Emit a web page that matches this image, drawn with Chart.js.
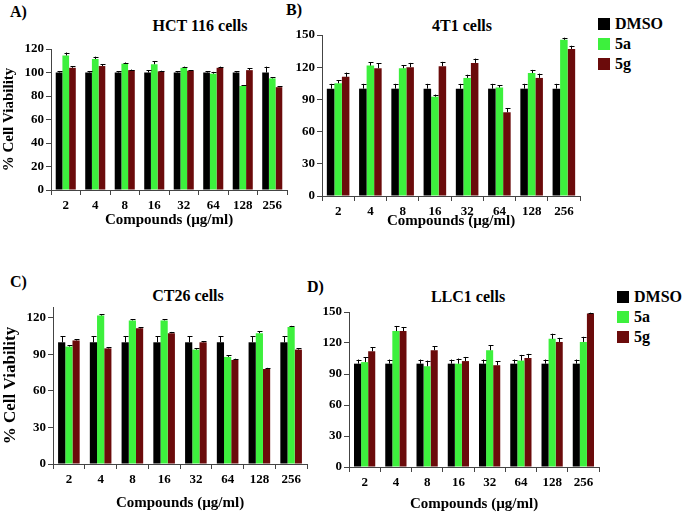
<!DOCTYPE html>
<html>
<head>
<meta charset="utf-8">
<script src="https://cdn.jsdelivr.net/npm/chart.js@4.4.1/dist/chart.umd.min.js"></script>
<style>
  html, body { margin:0; padding:0; background:#fff; }
  body { width:685px; height:513px; position:relative; overflow:hidden; font-family:"Liberation Serif", "Times New Roman", serif; font-weight:bold; color:#000; }
  canvas { position:absolute; }
  .t { position:absolute; transform:translate(-50%,-50%); white-space:nowrap; font-size:16px; }
  .l { position:absolute; white-space:nowrap; font-size:16px; transform:translateY(-50%); }
  .lg { position:absolute; font-size:16px; }
  .lg div { position:relative; height:20px; line-height:20px; }
  .lg span.sq { display:inline-block; width:12px; height:12px; margin-right:5px; vertical-align:-1px; }
</style>
</head>
<body>
<div class="l" style="left:10px;top:12px;">A)</div>
<div class="t" style="left:200px;top:26px;">HCT 116 cells</div>
<div class="l" style="left:286px;top:10px;">B)</div>
<div class="t" style="left:462px;top:26px;">4T1 cells</div>
<div class="l" style="left:10px;top:282px;">C)</div>
<div class="t" style="left:188px;top:296px;">CT26 cells</div>
<div class="l" style="left:307px;top:287px;">D)</div>
<div class="t" style="left:468px;top:297px;">LLC1 cells</div>

<canvas id="cA" width="292" height="194" style="left:0px;top:35px;"></canvas>
<canvas id="cB" width="293" height="210" style="left:292px;top:20px;"></canvas>
<canvas id="cC" width="312" height="222" style="left:0px;top:290px;"></canvas>
<canvas id="cD" width="292" height="216" style="left:312px;top:297px;"></canvas>

<div class="lg" id="legB" style="left:598px;top:14px;"></div>
<div class="lg" id="legD" style="left:617px;top:287px;"></div>

<script>
// ---- data ----
const categories = ['2','4','8','16','32','64','128','256'];
const seriesNames = ['DMSO','5a','5g'];
const seriesColors = ['#000000','#3df03d','#6b0b0b'];

// A) HCT 116
const hctDMSO = [100,100,100,100,100,100,100,100];
const hct5a   = [114.5,111.5,107.5,107,104,99,88.5,95];
const hct5g   = [104,105.5,102,101,101.5,104,102,87.5];
const hctDMSOErr = [1,1,1,2,1,1,1,5];
const hct5aErr   = [2.5,2,1,2.5,1,1.5,0.5,1];
const hct5gErr   = [1.5,1.5,0.5,0.5,0.5,1,1.5,1];

// B) 4T1
const t4DMSO = [100,100,100,100,100,100,100,100];
const t45a   = [105,121.5,119,92.5,110,101,114.5,145.5];
const t45g   = [111,119,120,121,124,78,110,137];
const t4DMSOErr = [4.5,4.5,4.5,4.5,4.5,4.5,4.5,4.5];
const t45aErr   = [3,3,3,2,3,2,3,2];
const t45gErr   = [4,4.5,4,4,4,4,4,3];

// C) CT26
const ctDMSO = [100,100,100,100,100,100,100,100];
const ct5a   = [96.5,122,118,118,94,88,107.5,112.5];
const ct5g   = [101.5,95,111.5,107.5,100,85.5,78,94];
const ctDMSOErr = [5,5,5,5,5,5,5,5];
const ct5aErr   = [1,1,1,1,1,1.5,1.5,1];
const ct5gErr   = [1,1,1,1,1,1,1,1];

// D) LLC1
const llDMSO = [100,100,100,100,100,100,100,100];
const ll5a   = [101.5,131.5,97.5,100,113,103,124,121];
const ll5g   = [112,131.5,113,102.5,98.5,105.5,121,148.5];
const llDMSOErr = [4,4,4,4,4,4,4,4];
const ll5aErr   = [4.5,5,5.5,5,5,5.5,5,5];
const ll5gErr   = [4,4,4,4,4,4,4,0.8];

// ---- error bar plugin ----
const errorBars = {
  id: 'errorBars',
  afterDatasetsDraw(chart) {
    const ctx = chart.ctx;
    const ys = chart.scales.y;
    ctx.save();
    ctx.strokeStyle = '#000';
    ctx.lineWidth = 1;
    chart.data.datasets.forEach((ds, i) => {
      const meta = chart.getDatasetMeta(i);
      meta.data.forEach((bar, j) => {
        const v = ds.data[j], e = ds.errors[j];
        const y0 = ys.getPixelForValue(v);
        const y1 = ys.getPixelForValue(v + e);
        const x = Math.round(bar.x) + 0.5;
        ctx.beginPath();
        ctx.moveTo(x, y0);
        ctx.lineTo(x, y1);
        ctx.moveTo(x - 2, Math.round(y1) + 0.5);
        ctx.lineTo(x + 3, Math.round(y1) + 0.5);
        ctx.stroke();
      });
    });
    ctx.restore();
  }
};

const FONT = 'Liberation Serif';
const AXC = '#444';

function makeChart(id, cfg) {
  const datasets = cfg.values.map((vals, k) => ({
    label: seriesNames[k],
    data: vals,
    errors: cfg.errs[k],
    backgroundColor: seriesColors[k],
    borderWidth: 0,
    barPercentage: 1.0,
    categoryPercentage: cfg.catPct
  }));
  return new Chart(document.getElementById(id), {
    type: 'bar',
    data: { labels: categories, datasets },
    plugins: [errorBars],
    options: {
      responsive: false,
      animation: false,
      devicePixelRatio: 1,
      layout: { padding: cfg.padding },
      plugins: { legend: { display: false }, title: { display: false }, tooltip: { enabled: false } },
      scales: {
        x: {
          grid: { display: true, drawOnChartArea: false, drawTicks: true, tickLength: 5, color: AXC, offset: true },
          border: { display: true, color: AXC, width: 1 },
          ticks: { color: '#000', font: { family: FONT, size: 13, weight: 'bold' }, padding: 3, maxRotation: 0 },
          title: { display: true, text: 'Compounds (µg/ml)', color: '#000', font: { family: FONT, size: 15, weight: 'bold' }, padding: { top: 0, bottom: 0 } },
          afterFit: s => { s.height = cfg.xH; }
        },
        y: {
          min: 0, max: cfg.max,
          grid: { display: true, drawOnChartArea: false, drawTicks: true, tickLength: 5, color: AXC },
          border: { display: true, color: AXC, width: 1 },
          ticks: { stepSize: cfg.step, includeBounds: false, color: '#000', font: { family: FONT, size: 13, weight: 'bold' }, padding: 2 },
          title: { display: !!cfg.yTitle, text: '% Cell Viability', color: '#000', font: { family: FONT, size: cfg.yTitleSize || 15, weight: 'bold' }, padding: { top: 0, bottom: 0 } },
          afterFit: s => { s.width = cfg.yW; }
        }
      }
    }
  });
}

makeChart('cA', { values:[hctDMSO,hct5a,hct5g], errs:[hctDMSOErr,hct5aErr,hct5gErr], max:120, step:20,
  padding:{left:0,top:14,right:5,bottom:0}, yW:51, xH:39, yTitle:true, yTitleSize:15, catPct:0.68 });
makeChart('cB', { values:[t4DMSO,t45a,t45g], errs:[t4DMSOErr,t45aErr,t45gErr], max:150, step:30,
  padding:{left:0,top:15,right:5,bottom:0}, yW:30, xH:34, yTitle:false, catPct:0.7 });
makeChart('cC', { values:[ctDMSO,ct5a,ct5g], errs:[ctDMSOErr,ct5aErr,ct5gErr], max:129, step:30,
  padding:{left:0,top:17,right:5,bottom:0}, yW:53, xH:48, yTitle:true, yTitleSize:17, catPct:0.68 });
makeChart('cD', { values:[llDMSO,ll5a,ll5g], errs:[llDMSOErr,ll5aErr,ll5gErr], max:150, step:30,
  padding:{left:0,top:15,right:5,bottom:0}, yW:37, xH:46, yTitle:false, catPct:0.68 });

// legends
function buildLegend(id) {
  const el = document.getElementById(id);
  seriesNames.forEach((n, k) => {
    const row = document.createElement('div');
    const sq = document.createElement('span');
    sq.className = 'sq';
    sq.style.background = seriesColors[k];
    row.appendChild(sq);
    row.appendChild(document.createTextNode(n));
    el.appendChild(row);
  });
}
buildLegend('legB');
buildLegend('legD');
</script>
</body>
</html>
